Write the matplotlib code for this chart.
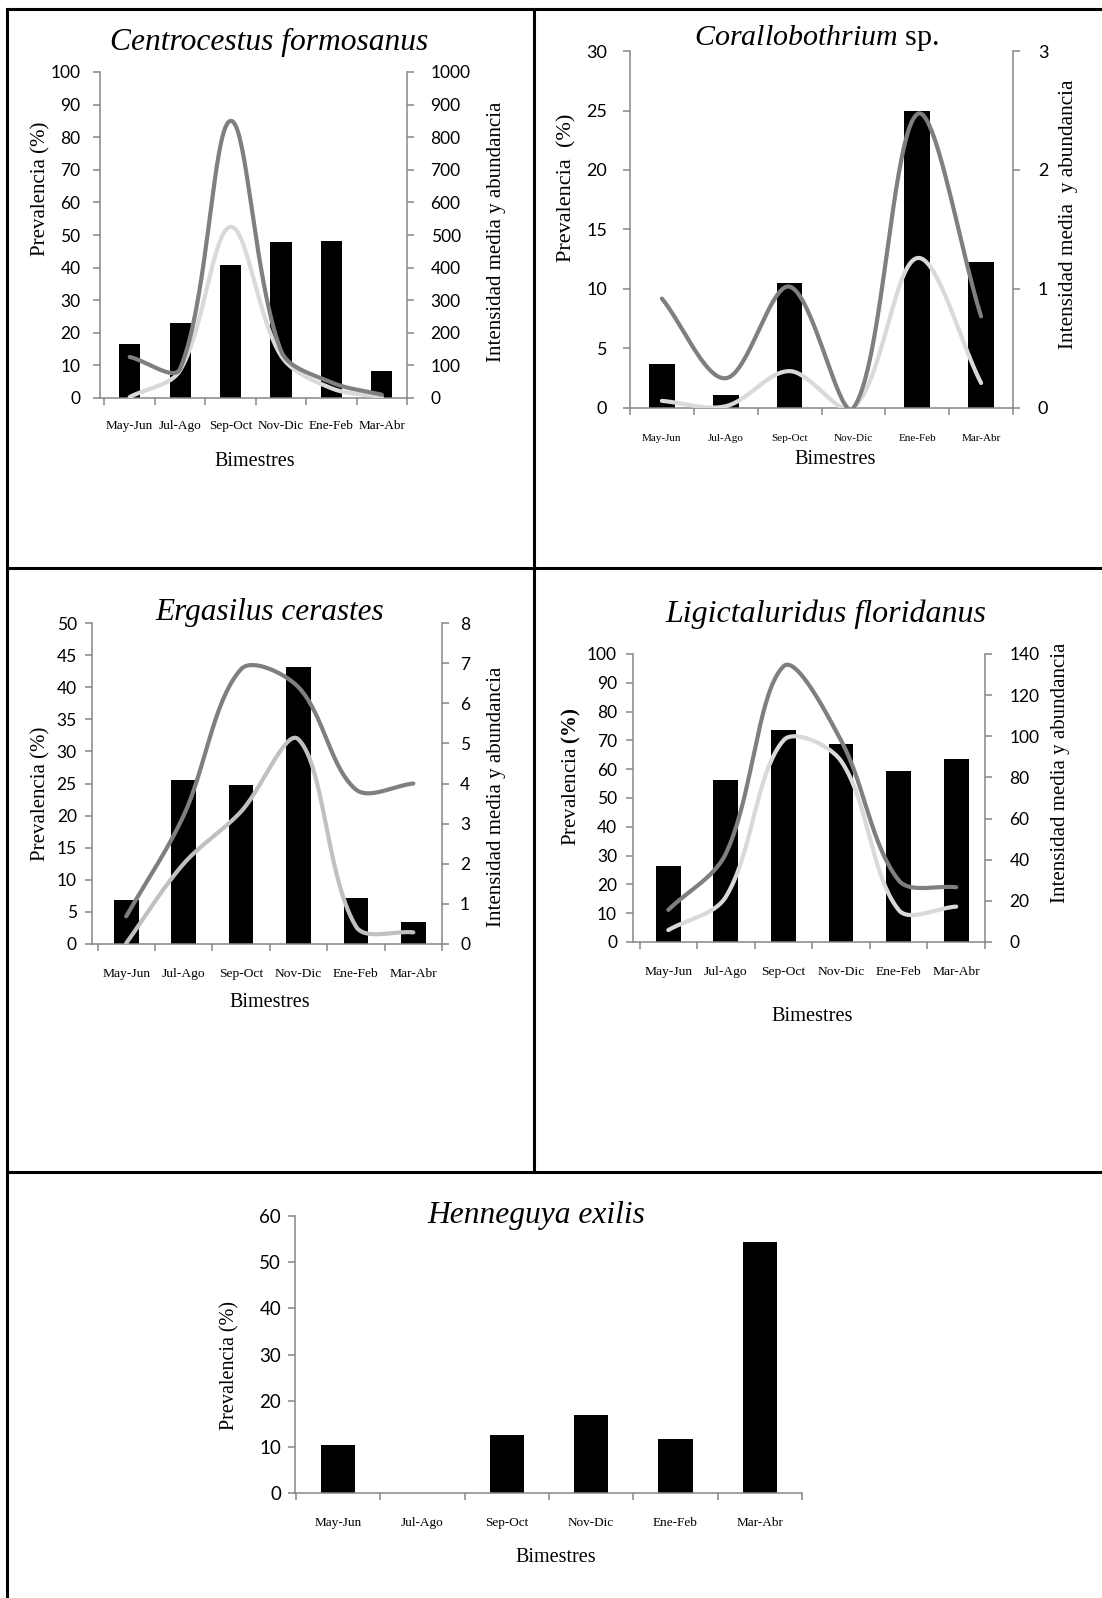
import matplotlib.pyplot as plt
import numpy as np

plt.rcParams['mathtext.fontset'] = 'custom'
plt.rcParams['mathtext.it'] = 'Liberation Serif:italic'
plt.rcParams['mathtext.rm'] = 'Liberation Serif'
plt.rcParams['mathtext.bf'] = 'Liberation Serif:bold'

# bimestres del muestreo
meses = ["May-Jun", "Jul-Ago", "Sep-Oct", "Nov-Dic", "Ene-Feb", "Mar-Abr"]

# Centrocestus formosanus
cf_prev = [16.5, 23.1, 40.9, 47.9, 48.3, 8.4]
cf_int = [126, 90, 850, 145, 48, 10]
cf_abun = [3, 85, 525, 130, 30, 3]

# Corallobothrium sp.
co_prev = [3.7, 1.1, 10.5, 0, 25.0, 12.3]
co_int = [0.92, 0.25, 1.02, 0, 2.47, 0.77]
co_abun = [0.06, 0.015, 0.31, 0, 1.26, 0.21]

# Ergasilus cerastes
er_prev = [6.8, 25.6, 24.8, 43.1, 7.2, 3.4]
er_int = [0.69, 3.2, 6.85, 6.4, 3.85, 4.0]
er_abun = [0.02, 2.0, 3.3, 5.1, 0.44, 0.29]

# Ligictaluridus floridanus
lf_prev = [26.4, 56.1, 73.5, 68.9, 59.3, 63.7]
lf_int = [15.6, 43, 134, 98, 30, 26.6]
lf_abun = [5.8, 22, 98, 88, 15.6, 17.2]

# Henneguya exilis
he_prev = [10.4, 0, 12.6, 16.9, 11.7, 54.4]

W, H = 1102, 1598
GRIS = '#868686'
OSCURO = '#7f7f7f'
CLARO = '#d9d9d9'

fig = plt.figure(figsize=(W / 100, H / 100), dpi=100)


def caja(x0, y0, x1, y1):
    # rectángulo en píxeles (origen arriba a la izquierda) -> fracción de figura
    return [x0 / W, 1 - y1 / H, (x1 - x0) / W, (y1 - y0) / H]


def texto(x, y, s, **kw):
    fig.text(x / W, 1 - y / H, s, family='Liberation Serif', **kw)


def suave(ax, ys):
    # línea suavizada parecida a la de Excel (Bezier en coordenadas de pantalla)
    xs = np.arange(len(ys))
    p = ax.transData.transform(np.column_stack([xs, ys]))
    n = len(p)
    d = np.hypot(*np.diff(p, axis=0).T)
    t = np.linspace(0, 1, 40)[:, None]
    curva = []
    for i in range(n - 1):
        a, b = p[i], p[i + 1]
        if i == 0:
            c1 = a + (b - a) / 3
        else:
            c1 = a + (p[i + 1] - p[i - 1]) / 3 * d[i] / (d[i - 1] + d[i])
        if i == n - 2:
            c2 = b - (b - a) / 3
        else:
            c2 = b - (p[i + 2] - p[i]) / 3 * d[i] / (d[i] + d[i + 1])
        curva.append((1 - t) ** 3 * a + 3 * (1 - t) ** 2 * t * c1
                     + 3 * (1 - t) * t ** 2 * c2 + t ** 3 * b)
    curva = ax.transData.inverted().transform(np.vstack(curva))
    return curva[:, 0], curva[:, 1]


def panel(rect, off, prev, ymax, ystep, ancho, fs_cat, pad_cat, fs_num, pads,
          inten=None, abun=None, ymax2=None, ystep2=None, claro=CLARO):
    ax = fig.add_axes(caja(*rect))
    n = len(meses)
    x = np.arange(n)
    ax.bar(x, prev, width=ancho, color='black', zorder=2)
    # las categorías empiezan un poco a la derecha del eje vertical
    cat = (rect[2] - rect[0] - off) / n
    ax.set_xlim(-0.5 - off / cat, n - 0.5)
    ax.set_ylim(0, ymax)
    ax.set_yticks(np.arange(0, ymax + ystep / 2, ystep))
    ax.set_xticks(x)
    ax.set_xticklabels(meses, family='Liberation Serif', fontsize=fs_cat)
    ax.set_xticks(np.arange(n + 1) - 0.5, minor=True)
    ax.tick_params(axis='x', which='major', length=0, pad=pad_cat)
    ax.tick_params(axis='x', which='minor', length=5, width=1.1, color=GRIS)
    ax.tick_params(axis='y', length=5, width=1.1, color=GRIS, labelsize=fs_num, pad=pads[0])
    for lab in ax.get_yticklabels():
        lab.set_family('Lato')
    for lado in ['top', 'right']:
        ax.spines[lado].set_visible(False)
    for lado in ['left', 'bottom']:
        ax.spines[lado].set_color(GRIS)
        ax.spines[lado].set_linewidth(1.1)
    if inten is not None:
        ax2 = ax.twinx()
        ax2.set_ylim(0, ymax2)
        ax2.set_yticks(np.arange(0, ymax2 + ystep2 / 2, ystep2))
        ax2.tick_params(axis='y', length=5, width=1.1, color=GRIS, labelsize=fs_num, pad=pads[1])
        for lab in ax2.get_yticklabels():
            lab.set_family('Lato')
        for lado in ['top', 'left', 'bottom']:
            ax2.spines[lado].set_visible(False)
        ax2.spines['right'].set_color(GRIS)
        ax2.spines['right'].set_linewidth(1.1)
        xi, yi = suave(ax2, inten)
        xa, ya = suave(ax2, abun)
        ax2.plot(xa, ya, color=claro, lw=3, solid_capstyle='round')
        ax2.plot(xi, yi, color=OSCURO, lw=3, solid_capstyle='round')
    return ax


# Centrocestus formosanus
panel((100, 72, 407, 398), 4.5, cf_prev, 100, 10, 0.42, 9.5, 16, 12.5, (9, 12),
      cf_int, cf_abun, 1000, 100)
texto(269, 50, 'Centrocestus formosanus', style='italic', fontsize=22.7, ha='center', va='baseline')
texto(41, 189, 'Prevalencia (%)', fontsize=15, rotation=90, ha='center', va='center')
texto(497, 232, 'Intensidad media y abundancia', fontsize=15, rotation=90, ha='center', va='center')
texto(255, 462, 'Bimestres', fontsize=14.5, ha='center', va='center')

# Corallobothrium sp.
panel((630, 51, 1013, 408), 0, co_prev, 30, 5, 0.40, 8, 19, 13, (11.5, 13),
      co_int, co_abun, 3, 1)
texto(817, 45, r'$\mathit{Corallobothrium}$ sp.', fontsize=21.6, ha='center', va='baseline')
texto(567, 188, 'Prevalencia  (%)', fontsize=16, rotation=90, ha='center', va='center')
texto(1068, 214, 'Intensidad media  y abundancia', fontsize=15.3, rotation=90, ha='center', va='center')
texto(835, 460, 'Bimestres', fontsize=14.7, ha='center', va='center')

# Ergasilus cerastes
panel((92, 623, 442, 944), 5.5, er_prev, 50, 5, 0.43, 9.7, 17, 12.5, (6, 8),
      er_int, er_abun, 8, 1, claro='#c0c0c0')
texto(270, 620, 'Ergasilus cerastes', style='italic', fontsize=22.5, ha='center', va='baseline')
texto(41, 794, 'Prevalencia (%)', fontsize=15, rotation=90, ha='center', va='center')
texto(496, 797, 'Intensidad media y abundancia', fontsize=15, rotation=90, ha='center', va='center')
texto(270, 1003, 'Bimestres', fontsize=14.5, ha='center', va='center')

# Ligictaluridus floridanus
panel((633, 654, 985, 942), 6.5, lf_prev, 100, 10, 0.43, 9.7, 17, 12.5, (6.5, 12.5),
      lf_int, lf_abun, 140, 20)
texto(826, 622, 'Ligictaluridus floridanus', style='italic', fontsize=23, ha='center', va='baseline')
texto(571, 777, r'Prevalencia $\mathbf{(\%)}$', fontsize=15, rotation=90, ha='center', va='center')
texto(1061, 773, 'Intensidad media y abundancia', fontsize=15, rotation=90, ha='center', va='center')
texto(812, 1017, 'Bimestres', fontsize=14.7, ha='center', va='center')

# Henneguya exilis
panel((295, 1216, 802, 1493), 1, he_prev, 60, 10, 0.41, 9.5, 17, 13.5, (5, 5))
texto(536, 1223, 'Henneguya exilis', style='italic', fontsize=22.7, ha='center', va='baseline')
texto(230, 1366, 'Prevalencia (%)', fontsize=14.5, rotation=90, ha='center', va='center')
texto(556, 1557, 'Bimestres', fontsize=14.5, ha='center', va='center')

# marco de la tabla
marco = [((7, 7), (9, H)), ((7, W), (9, 9)), ((534, 534), (9, 1172)),
         ((7, W), (568, 568)), ((7, W), (1172, 1172))]
for xs, ys in marco:
    fig.add_artist(plt.Line2D([v / W for v in xs], [1 - v / H for v in ys],
                              transform=fig.transFigure, color='black', lw=2.2))

plt.savefig('out.png', dpi=100)
